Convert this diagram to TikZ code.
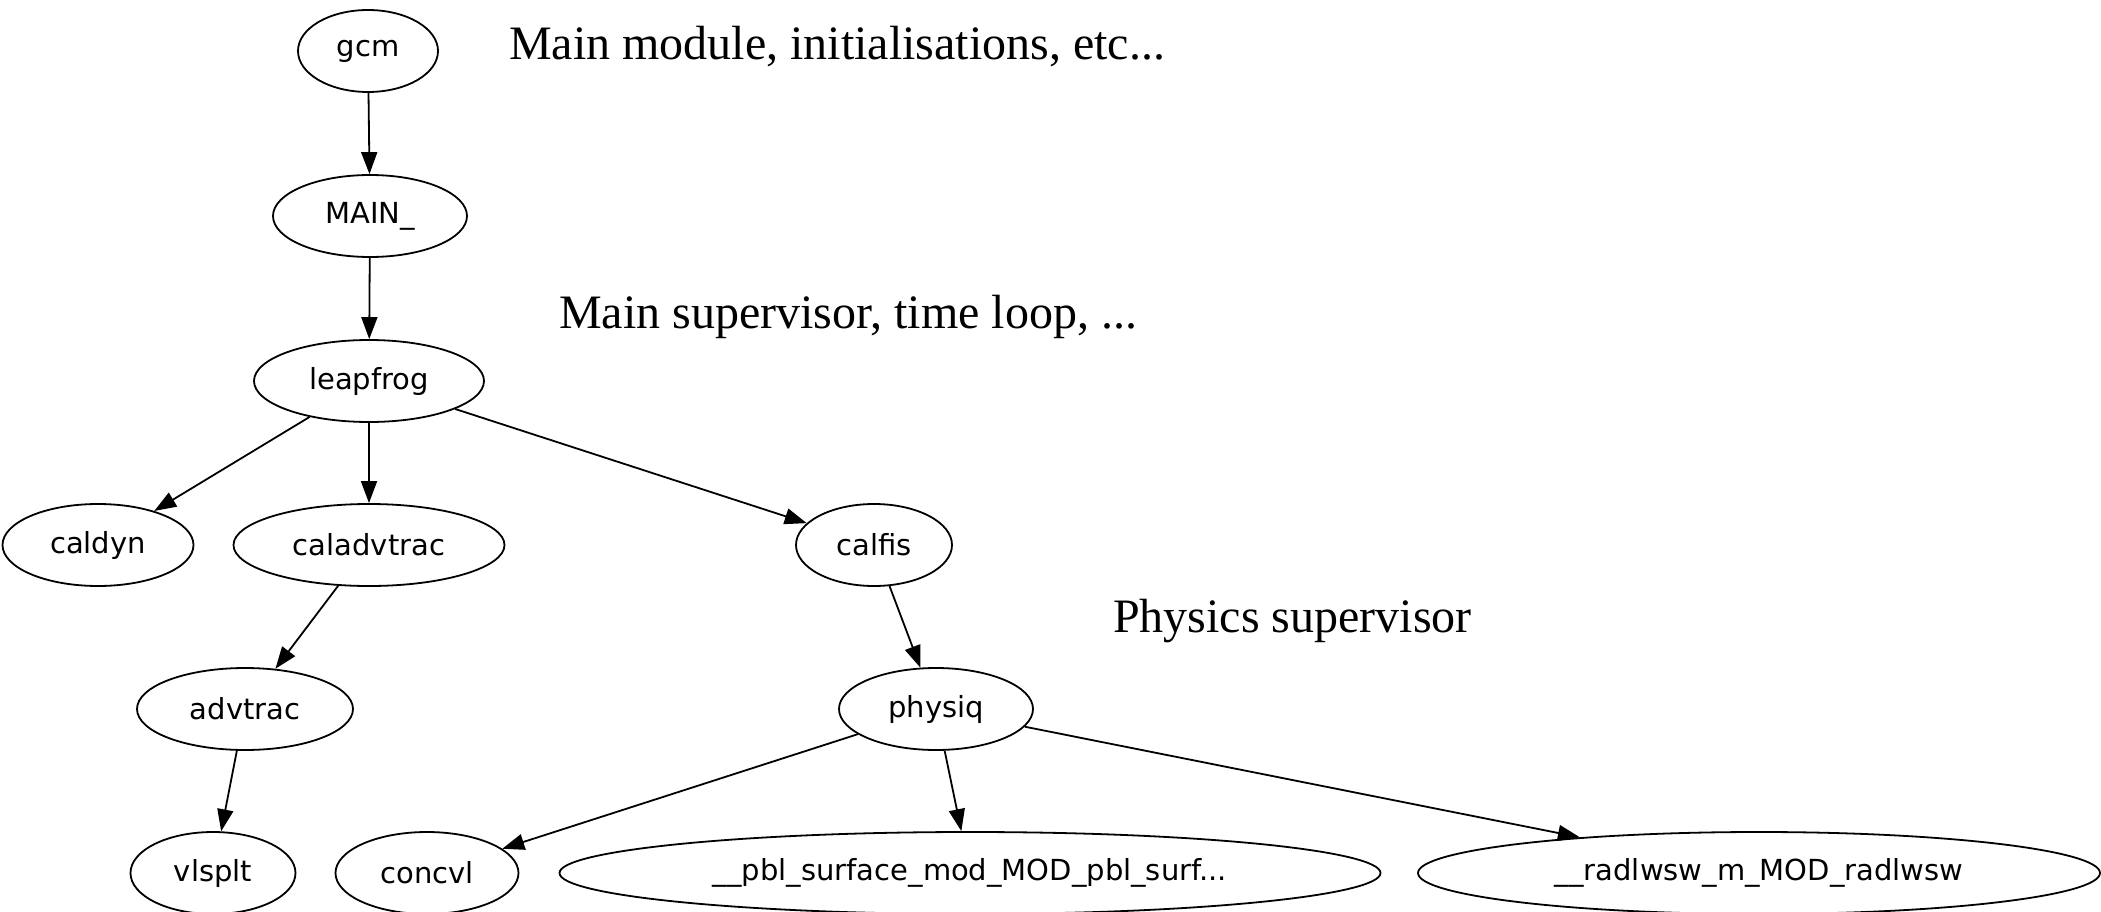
\documentclass[tikz,border=0pt]{standalone}
\usepackage{fontspec}
\setmainfont{Liberation Serif}
\newfontfamily\callfont{DejaVu Sans}
\usetikzlibrary{shapes.geometric,arrows.meta}

\begin{document}
\begin{tikzpicture}[x=1pt, y=-1pt,
  fn/.style={draw, ellipse, line width=1.8pt, inner sep=0pt, minimum height=82pt,
    font=\callfont\fontsize{29}{34}\selectfont},
  note/.style={anchor=base west, inner sep=0pt, font=\fontsize{48}{56}\selectfont},
  call/.style={->, line width=1.8pt, >={Triangle[length=22pt,width=16pt]}}]
\useasboundingbox (0,0) rectangle (2101,912);
% call tree
\node[fn, minimum width=140pt] (gcm) at (368,51) {gcm};
\node[fn, minimum width=194pt] (main) at (370,216) {MAIN\_};
\node[fn, minimum width=230pt] (leapfrog) at (369,381) {leapfrog};
\node[fn, minimum width=191pt] (caldyn) at (98,545) {caldyn};
\node[fn, minimum width=271pt] (caladvtrac) at (369,545) {caladvtrac};
\node[fn, minimum width=156pt] (calfis) at (874,545) {calfis};
\node[fn, minimum width=216pt] (advtrac) at (245,709) {advtrac};
\node[fn, minimum width=194pt] (physiq) at (936,709) {physiq};
\node[fn, minimum width=165pt] (vlsplt) at (213,873) {vlsplt};
\node[fn, minimum width=183pt] (concvl) at (427,873) {concvl};
\node[fn, minimum width=821pt] (pbl) at (970,873) {\_\_pbl\_surface\_mod\_MOD\_pbl\_surf...};
\node[fn, minimum width=682pt] (radlwsw) at (1759,873) {\_\_radlwsw\_m\_MOD\_radlwsw};
\draw[call] (gcm) -- (main);
\draw[call] (main) -- (leapfrog);
\draw[call] (leapfrog) -- (caldyn);
\draw[call] (leapfrog) -- (caladvtrac);
\draw[call] (leapfrog) -- (calfis);
\draw[call] (caladvtrac) -- (advtrac);
\draw[call] (calfis) -- (physiq);
\draw[call] (advtrac) -- (vlsplt);
\draw[call] (physiq) -- (concvl);
\draw[call] (physiq) -- (pbl);
\draw[call] (physiq) -- (radlwsw);
% comments
\node[note] (mainnote) at (509,60) {Main module, initialisations, etc...};
\node[note] (loopnote) at (559,328) {Main supervisor, time loop, ...};
\node[note] (physnote) at (1113,632) {Physics supervisor};
\end{tikzpicture}
\end{document}
